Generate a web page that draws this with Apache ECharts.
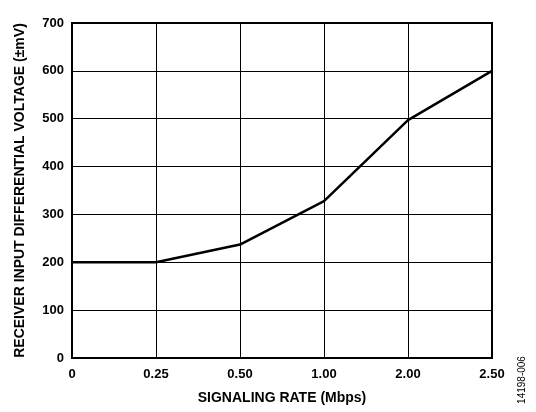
<!DOCTYPE html>
<html><head><meta charset="utf-8">
<script src="https://cdn.jsdelivr.net/npm/echarts@6/dist/echarts.min.js"></script>
<style>html,body{margin:0;padding:0;background:#fff}#c{width:536px;height:412px}</style>
</head><body><div id="c"></div>
<script>
var categories = ['0', '0.25', '0.50', '1.00', '2.00', '2.50'];
var voltage = [200, 200, 237, 328, 497, 600];
var yTicks = [0, 100, 200, 300, 400, 500, 600, 700];

var chart = echarts.init(document.getElementById('c'));
var font = 'Liberation Sans, Arial, sans-serif';
chart.setOption({
  animation: false,
  grid: { left: 72, right: 44, top: 23, bottom: 54, show: true, borderColor: '#000', borderWidth: 2, backgroundColor: 'transparent' },
  xAxis: {
    type: 'category', data: categories, boundaryGap: false,
    name: 'SIGNALING RATE (Mbps)', nameLocation: 'middle', nameGap: 33,
    nameTextStyle: { fontFamily: font, fontWeight: 'bold', fontSize: 14, color: '#000' },
    axisLine: { show: true, lineStyle: { color: '#000', width: 2 } },
    axisTick: { show: false },
    axisLabel: { fontFamily: font, fontWeight: 'bold', fontSize: 13, color: '#000', margin: 10 },
    splitLine: { show: true, lineStyle: { color: '#000', width: 1 } }
  },
  yAxis: {
    type: 'value', min: yTicks[0], max: yTicks[yTicks.length - 1], interval: 100,
    name: 'RECEIVER INPUT DIFFERENTIAL VOLTAGE (±mV)', nameLocation: 'middle', nameGap: 45,
    nameTextStyle: { fontFamily: font, fontWeight: 'bold', fontSize: 14, color: '#000' },
    axisLine: { show: true, lineStyle: { color: '#000', width: 2 } },
    axisTick: { show: false },
    axisLabel: { fontFamily: font, fontWeight: 'bold', fontSize: 13, color: '#000', margin: 8 },
    splitLine: { show: true, lineStyle: { color: '#000', width: 1 } }
  },
  series: [{
    type: 'line', data: voltage, symbol: 'none',
    lineStyle: { color: '#000', width: 2.5 }
  }],
  graphic: [{
    type: 'text', x: 522, y: 380, rotation: Math.PI / 2,
    style: { text: '14198-006', fontFamily: font, fontSize: 10, fill: '#000', align: 'center', verticalAlign: 'middle' }
  }]
});
</script></body></html>
